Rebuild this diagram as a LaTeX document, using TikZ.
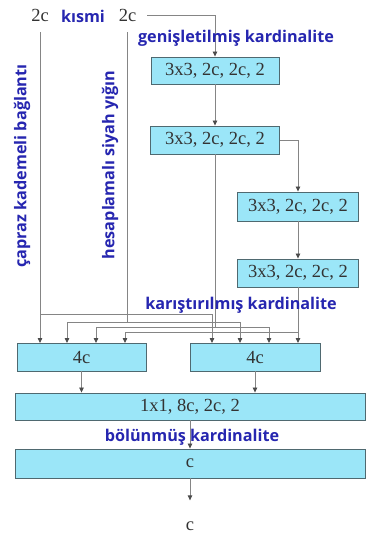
\documentclass[tikz,border=0pt]{standalone}
\usepackage{fontspec}
\setmainfont{Liberation Serif}
\newfontfamily\labelfont{Open Sans}
\usetikzlibrary{arrows.meta}
\definecolor{BoxCyan}{HTML}{9BE6F8}
\definecolor{BoxEdge}{HTML}{4F6970}
\definecolor{WireGray}{HTML}{858585}
\definecolor{LabelBlue}{HTML}{2626B0}

\begin{document}
\begin{tikzpicture}[x=1pt,y=-1pt,
  box/.style={rectangle, draw=BoxEdge, line width=0.9pt, fill=BoxCyan, inner sep=0pt, text=black!80, font=\fontsize{18.5}{21}\selectfont},
  num/.style={inner sep=0pt, text=black!80, font=\fontsize{18.5}{21}\selectfont},
  lbl/.style={inner sep=0pt, color=LabelBlue, font=\labelfont\bfseries\fontsize{16.2}{18}\selectfont},
  wire/.style={draw=WireGray, line width=0.8pt},
  arr/.style={wire, -{Triangle[length=5pt,width=4.5pt,color=black!70]}}]
\fill[white] (0,0) rectangle (369,536);
\useasboundingbox (0,0) rectangle (369,536);

% --- inputs ---
\node[num] (in-a) at (40,15) {2c};
\node[lbl] (part) at (83,16) {kısmi};
\node[num] (in-b) at (127.5,15) {2c};

% --- widened cardinality ---
\node[box, minimum width=128pt, minimum height=27pt] (b1) at (215,70.5) {3x3, 2c, 2c, 2};
\node[box, minimum width=129pt, minimum height=28pt] (b2) at (215,140) {3x3, 2c, 2c, 2};
\node[box, minimum width=121pt, minimum height=29pt] (b3) at (298,206.5) {3x3, 2c, 2c, 2};
\node[box, minimum width=121pt, minimum height=28pt] (b4) at (298,273) {3x3, 2c, 2c, 2};

\draw[arr] ([xshift=11pt]in-b.east) -| (b1.north);
\draw[arr] (b1) -- (b2);
\draw[arr] (b2.east) -| (b3.north);
\draw[arr] (b3) -- (b4);

% --- mixing ---
\node[box, minimum width=129pt, minimum height=28pt] (m-l) at (81.5,357) {4c};
\node[box, minimum width=130pt, minimum height=28pt] (m-r) at (255,357) {4c};
\foreach \n/\x in {1/40,2/67,3/96,4/125}
  \coordinate (li-\n) at (\x,343);
\foreach \n/\x in {1/212,2/240,3/269,4/298}
  \coordinate (ri-\n) at (\x,343);
\coordinate (s1) at (40,314);
\coordinate (s2) at (127.5,322);
\coordinate (s3) at (215,327);
\coordinate (s4) at (298,332);

\draw[wire] ([yshift=-11pt]in-a.south) -- (s1);
\draw[wire] ([yshift=-11pt]in-b.south) -- (s2);
\draw[wire] (b2.south) -- (s3);
\draw[wire] (b4.south) -- (s4);
\foreach \n in {1,...,4}{
  \draw[arr] (s\n) -| (li-\n);
  \draw[arr] (s\n) -| (ri-\n);
}

% --- split and output ---
\node[box, minimum width=350pt, minimum height=27pt] (big) at (190,406.5) {1x1, 8c, 2c, 2};
\node[box, minimum width=350pt, minimum height=29pt] (last) at (190,463.5) {c};
\node[num] (out) at (190,526) {c};

\draw[arr] (m-l.south) -- (m-l.south |- big.north);
\draw[arr] (m-r.south) -- (m-r.south |- big.north);
\draw[arr] (big) -- (last);
\draw[arr, shorten >=21pt] (last) -- (out);

% --- labels ---
\node[lbl] (wide) at (236,38) {genişletilmiş kardinalite};
\node[lbl] (mixed) at (241,305) {karıştırılmış kardinalite};
\node[lbl] (split) at (192,437) {bölünmüş kardinalite};
\node[lbl, rotate=90] (cross) at (22,166) {çapraz kademeli bağlantı};
\node[lbl, rotate=90] (stack) at (110,165) {hesaplamalı siyah yığın};
\end{tikzpicture}
\end{document}
